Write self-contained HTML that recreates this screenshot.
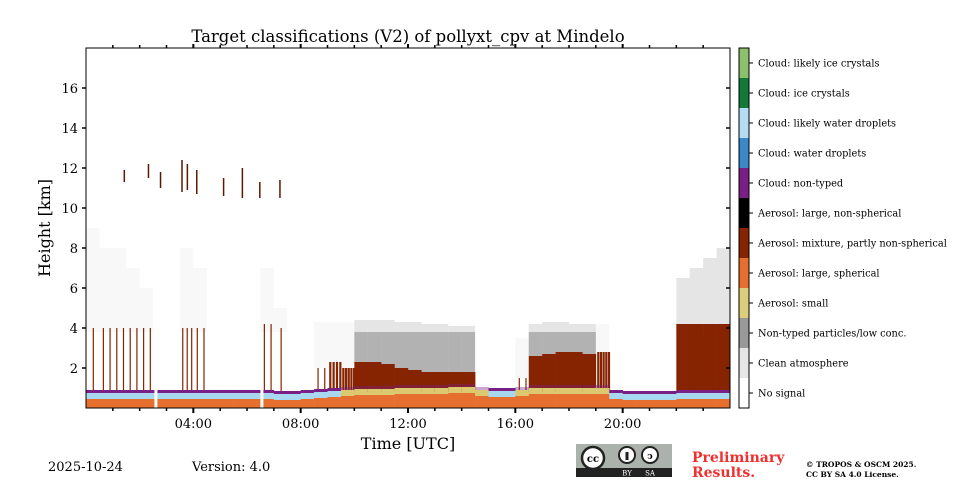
<!DOCTYPE html>
<html><head><meta charset="utf-8"><style>
body{margin:0;background:#fff;}
svg text{font-family:"DejaVu Serif","Liberation Serif",serif;}
</style></head><body>
<svg id="chart" width="960" height="480" viewBox="0 0 960 480" xmlns="http://www.w3.org/2000/svg">
<rect width="960" height="480" fill="#fff"/>
<text x="408" y="42" font-size="16.5" text-anchor="middle">Target classifications (V2) of pollyxt_cpv at Mindelo</text>
<g id="plot"></g>
<g id="axes"></g>
<text transform="translate(50,228) rotate(-90)" font-size="16" text-anchor="middle">Height [km]</text>
<text x="408" y="449" font-size="16" text-anchor="middle">Time [UTC]</text>
<g id="colorbar"></g>
<text x="48" y="471" font-size="13">2025-10-24</text>
<text x="192" y="471" font-size="13">Version: 4.0</text>
<g>
<rect x="576" y="444" width="96" height="33" fill="#abb1ab"/>
<rect x="576" y="468" width="96" height="9" fill="#222"/>
<circle cx="593" cy="458" r="11" fill="#fff" stroke="#222" stroke-width="2.5"/>
<text x="593" y="462" font-size="10" font-weight="bold" text-anchor="middle" font-family="Liberation Sans,sans-serif">cc</text>
<circle cx="627" cy="455" r="8" fill="#fff" stroke="#222" stroke-width="2"/>
<rect x="625.5" y="452" width="3" height="8" fill="#222"/>
<circle cx="650" cy="455" r="8" fill="#fff" stroke="#222" stroke-width="2"/>
<text x="650" y="459" font-size="9" font-weight="bold" text-anchor="middle" font-family="Liberation Sans,sans-serif">ↄ</text>
<text x="627" y="475.5" font-size="7" fill="#fff" text-anchor="middle" font-family="Liberation Sans,sans-serif">BY</text>
<text x="650" y="475.5" font-size="7" fill="#fff" text-anchor="middle" font-family="Liberation Sans,sans-serif">SA</text>
</g>
<text x="692" y="462" font-size="14" font-weight="bold" fill="#f0302f">Preliminary</text>
<text x="692" y="477" font-size="14" font-weight="bold" fill="#f0302f">Results.</text>
<text x="806" y="467" font-size="7.5" font-weight="bold">© TROPOS &amp; OSCM 2025.</text>
<text x="806" y="477" font-size="7.5" font-weight="bold">CC BY SA 4.0 License.</text>
</svg>
<script>
// half-hour bins starting 00:00
const binStart = [0,0.5,1,1.5,2,2.5,3,3.5,4,4.5,5,5.5,6,6.5,7,7.5,8,8.5,9,9.5,10,10.5,11,11.5,12,12.5,13,13.5,14,14.5,15,15.5,16,16.5,17,17.5,18,18.5,19,19.5,20,20.5,21,21.5,22,22.5,23,23.5];
const brownTop = [4,4,4,4,4,0.9,0.9,4,4,0.9,0.9,0.9,0.9,4.2,4,0.9,0.9,2,2.3,2,2.3,2.3,2.2,2,1.9,1.8,1.8,1.8,1.8,0.9,0.9,0.9,1.5,2.6,2.7,2.8,2.8,2.7,2.8,0.9,0.8,0.8,0.8,0.8,4.2,4.2,4.2,4.2];
const brownCover = [0.15,0.25,0.3,0.3,0.3,0,0,0.35,0.25,0,0,0,0,0.3,0.1,0,0,0.3,0.5,0.6,0.95,1,1,1,1,1,1,1,0.9,0,0,0,0.2,0.9,1,1,1,1,0.6,0,0,0,0,0,0.9,1,1,1];
const greyTop = [9,8,8,7,6,1,1,8,7,1,1,1,1,7,5,1,1,4.3,4.3,4.3,4.4,4.4,4.4,4.3,4.3,4.2,4.2,4.1,4.1,1,1,1,3.5,4.2,4.3,4.3,4.2,4.2,4.2,1,1,1,1,1,6.5,7,7.5,8];
const orangeTop = [0.45,0.45,0.45,0.45,0.45,0.45,0.45,0.45,0.45,0.45,0.45,0.45,0.45,0.45,0.4,0.4,0.45,0.5,0.55,0.6,0.65,0.65,0.65,0.7,0.7,0.7,0.7,0.75,0.75,0.6,0.55,0.55,0.6,0.7,0.7,0.7,0.7,0.7,0.7,0.45,0.4,0.4,0.4,0.4,0.45,0.45,0.45,0.45];
const cloudTimes = [1.4,2.3,2.75,3.55,3.75,4.1,5.1,5.8,6.45,7.2];
const cloudBase = [11.3,11.5,11,10.8,10.9,10.7,10.6,10.5,10.5,10.5];
const cloudTopH = [11.9,12.2,11.8,12.4,12.2,11.9,11.5,12,11.3,11.4];

const NS="http://www.w3.org/2000/svg";
const x=t=>86+t*644/24, y=h=>408-h*20;
const plot=document.getElementById('plot');
function rect(g,x0,y0,w,h,f,op){const r=document.createElementNS(NS,'rect');r.setAttribute('x',x0);r.setAttribute('y',y0);r.setAttribute('width',w);r.setAttribute('height',h);r.setAttribute('fill',f);if(op!==undefined)r.setAttribute('opacity',op);g.appendChild(r);return r;}
binStart.forEach((t,i)=>{
  const x0=x(t), w=x(t+0.5)-x0;
  const g=document.createElementNS(NS,'g');
  
  
  plot.appendChild(g);
  const dense=brownCover[i]>0.8;
  if(greyTop[i]>1){
    rect(g,x0,y(greyTop[i]),w,y(Math.min(brownTop[i],3.8))-y(greyTop[i]),'#999',dense?0.25:0.07);
    if(dense) rect(g,x0,y(3.8),w,y(brownTop[i])-y(3.8),'#888',0.55);
  }
  const n=8;
  if(dense){
    rect(g,x0,y(brownTop[i]),w+0.3,y(0.8)-y(brownTop[i]),'#862300');
  } else if(brownCover[i]>0){
    const m=Math.max(1,Math.round(brownCover[i]*n));
    for(let k=0;k<m;k++){
      rect(g,x0+(k+0.5)*w/m,y(brownTop[i]),brownCover[i]>=0.5?2.2:1.2,y(0.8)-y(brownTop[i]),'#862300');
    }
  }
  rect(g,x0,y(orangeTop[i]+0.45),w+0.3,y(orangeTop[i]+0.3)-y(orangeTop[i]+0.45),'#7a1f85', orangeTop[i]<0.6?1:0.4);
  rect(g,x0,y(orangeTop[i]+0.3),w+0.3,y(orangeTop[i])-y(orangeTop[i]+0.3),orangeTop[i]<0.6?'#a8d8f0':'#dcc86e');
  rect(g,x0,y(orangeTop[i]),w+0.3,y(0)-y(orangeTop[i]),'#e66f30');
});
cloudTimes.forEach((t,i)=>{
  const r=rect(plot,x(t),y(cloudTopH[i]),1.5,y(cloudBase[i])-y(cloudTopH[i]),'#5a1a00');
  
  
});
rect(plot,x(2.55),y(1),3,20,'#fff');rect(plot,x(6.5),y(1),3,20,'#fff');

const ax=document.getElementById('axes');
function line(x1,y1,x2,y2,sw){const l=document.createElementNS(NS,'line');l.setAttribute('x1',x1);l.setAttribute('y1',y1);l.setAttribute('x2',x2);l.setAttribute('y2',y2);l.setAttribute('stroke','#000');l.setAttribute('stroke-width',sw);ax.appendChild(l);}
function text(s,tx,ty,a){const e=document.createElementNS(NS,'text');e.textContent=s;e.setAttribute('x',tx);e.setAttribute('y',ty);e.setAttribute('font-size','13');e.setAttribute('text-anchor',a);ax.appendChild(e);return e;}
const r0=document.createElementNS(NS,'rect');r0.setAttribute('x',86);r0.setAttribute('y',48);r0.setAttribute('width',644);r0.setAttribute('height',360);r0.setAttribute('fill','none');r0.setAttribute('stroke','#000');r0.setAttribute('stroke-width',1);ax.appendChild(r0);
const yTicks=[2,4,6,8,10,12,14,16];
yTicks.forEach(h=>{line(82,y(h),86,y(h),1.5);line(726,y(h),730,y(h),1.5);
  const e=text(String(h),78,y(h)+5,'end');});
const xTickLabels=['04:00','08:00','12:00','16:00','20:00'];
for(let hh=1;hh<24;hh++){const maj=hh%4===0;line(x(hh),408,x(hh),maj?413:411,maj?2:1.5);line(x(hh),48,x(hh),maj?44:45,maj?2:1.5);}
xTickLabels.forEach((s,i)=>{const e=text(s,x((i+1)*4),428,'middle');});

const cbColors=['#8cc06c','#127a38','#b4dcf4','#3a88c8','#7a1f85','#000000','#862300','#e66f30','#dccd7a','#999999','#e6e6e6','#ffffff'];
const cbLabels=['Cloud: likely ice crystals','Cloud: ice crystals','Cloud: likely water droplets','Cloud: water droplets','Cloud: non-typed','Aerosol: large, non-spherical','Aerosol: mixture, partly non-spherical','Aerosol: large, spherical','Aerosol: small','Non-typed particles/low conc.','Clean atmosphere','No signal'];
const cb=document.getElementById('colorbar');
cbColors.forEach((c,i)=>{const r=document.createElementNS(NS,'rect');r.setAttribute('x',739);r.setAttribute('y',48+i*30);r.setAttribute('width',10);r.setAttribute('height',30);r.setAttribute('fill',c);
  
  
  cb.appendChild(r);
  const l=document.createElementNS(NS,'line');l.setAttribute('x1',749);l.setAttribute('x2',753);l.setAttribute('y1',63+i*30);l.setAttribute('y2',63+i*30);l.setAttribute('stroke','#000');cb.appendChild(l);
  const t=document.createElementNS(NS,'text');t.textContent=cbLabels[i];t.setAttribute('x',758);t.setAttribute('y',66.5+i*30);t.setAttribute('font-size','9.8');
  
  
  cb.appendChild(t);});
const cbo=document.createElementNS(NS,'rect');cbo.setAttribute('x',739);cbo.setAttribute('y',48);cbo.setAttribute('width',10);cbo.setAttribute('height',360);cbo.setAttribute('fill','none');cbo.setAttribute('stroke','#000');cb.appendChild(cbo);
</script>
</body></html>
